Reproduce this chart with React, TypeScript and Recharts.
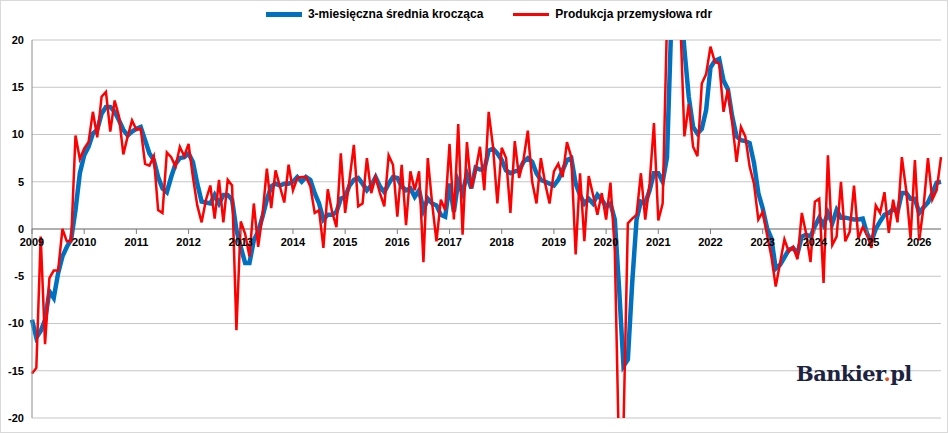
import React from "react";
import { LineChart, Line, XAxis, YAxis, CartesianGrid, ReferenceLine } from "recharts";

const years = [2009, 2010, 2011, 2012, 2013, 2014, 2015, 2016, 2017, 2018, 2019, 2020, 2021, 2022, 2023, 2024, 2025, 2026];
const monthsLastYear = 6;

// Produkcja przemysłowa r/r (%)
const prodRdr = [
  -15.3, -14.7, -0.8, -12.2, -5.2, -4.4, -4.4, 0, -1.3, -1.3, 9.9, 7.4,
  8.5, 9.2, 12.4, 9.7, 14, 14.5, 10.3, 13.6, 11.9, 7.9, 9.8, 11.5,
  10.5, 10.6, 6.9, 6.7, 7.7, 2, 1.7, 8.1, 7.6, 6.6, 8.7, 7.7,
  9, 5.5, 2.5, 0.7, 3.1, 4.6, 1.1, 5.2, 0.7, 5.2, 4.6, -10.7,
  0.8, -0.5, -2.9, 2.7, -1.9, 1.5, 6.4, 2.2, 6.2, 4.5, 2.8, 6.8,
  4.1, 5.4, 5.5, 5.5, 4.5, 1.7, 2, -2, 4.2, 1.8, 0.2, 8,
  1.7, 5.2, 8.9, 2.4, 2.7, 7.5, 3.8, 5.5, 3.8, 2.4, 7.8, 6.8,
  1.3, 6.8, 0.4, 6.1, 4.1, 6.1, -3.5, 7.5, 2.7, -1.3, 3.1, 2,
  9, 1, 11.1, -0.6, 9.2, 4.3, 6.2, 8.7, 4.1, 12.4, 8.7, 2.7,
  8.6, 7.5, 1.7, 9.3, 5.4, 7.3, 10.4, 5, 2.7, 7.5, 4.8, 2.7,
  6.1, 6.9, 5.5, 9.2, 7.6, -2.7, 5.9, -1.3, 5.6, 3.6, 1.5, 3.8,
  1, 4.9, -2.3, -24.6, -21, 0.6, 1.1, 1.5, 5.9, 1, 4.8, 11.2,
  0.9, 2.7, 22, 44.5, 29.8, 23, 9.8, 13.2, 8.7, 7.7, 15.4, 16.4,
  19.3, 17.7, 17.5, 12.4, 14.8, 11.2, 7.1, 10.8, 9.8, 6.6, 4.8, 1,
  1.8, -0.6, -2.9, -6.1, -3.6, -1.1, -2.4, -1.9, -3.2, 1.7, -0.5, -3.5,
  2.9, 3.2, -5.7, 7.8, -1.7, -0.8, 5, -1.3, -0.3, 4.6, -1, 0.2,
  -0.6, -2, 2.5, 1.7, 3.9, -0.4, 3.1, 0.7, 7.6, 4.1, -1, 7.3,
  -1.2, 2.4, 7.5, 3.1, 4.1, 7.6,
];

// 3-miesięczna średnia krocząca (%)
const avg3m = [
  -9.6, -11.5, -10.8, -9.6, -6.6, -7.3, -4.7, -2.9, -1.9, -1.1, 2, 5.9,
  7.8, 8.7, 10.1, 10.5, 12.2, 12.9, 12.9, 12.4, 11.5, 10.5, 9.9, 10.3,
  10.6, 10.8, 9.4, 8, 7.3, 5.5, 4.3, 3.9, 5.5, 6.9, 7.5, 7.6,
  8, 7.1, 4.8, 2.9, 2.8, 2.7, 3.6, 2.7, 3.6, 3.6, 3.1, -0.1,
  -1.9, -3.6, -3.6, -1.2, -0.3, 1.3, 3.1, 4.5, 4.8, 4.6, 4.8, 4.8,
  5, 5.5, 5, 5.5, 5.2, 3.8, 2.7, 1, 1.5, 1.5, 1.8, 3.2,
  3.4, 4.6, 5.2, 5.4, 4.8, 4.1, 4.6, 5.5, 4.5, 3.9, 4.8, 5.5,
  5.4, 4.5, 4.1, 4.3, 3.4, 4.1, 2, 3.2, 2.7, 2.5, 1.5, 1.3,
  4.8, 1.8, 5, 3.8, 5.8, 4.3, 6.5, 6.3, 6.3, 8.3, 8.5, 8,
  7.3, 6.2, 5.9, 6.1, 6.2, 7.1, 7.5, 7.1, 5.9, 5.2, 5, 4.8,
  4.6, 5.2, 6.2, 7.3, 7.5, 4.8, 3.6, 2.7, 3.2, 2.7, 3.6, 3.1,
  2.4, 2.7, 1, -6.4, -14.5, -13.8, -5.7, 1, 2.9, 2.7, 4.1, 5.9,
  5.9, 5, 7.6, 22, 31, 25, 19, 14, 10.8, 10.1, 10.6, 12.6,
  17.1, 17.8, 18, 15.7, 14.8, 11.9, 9.8, 9.4, 9.3, 9.1, 7, 3.8,
  2.2, 0.1, -1, -4.2, -3.8, -3, -2.2, -2, -2.6, -0.8, -0.6, -0.8,
  0.3, 1.2, 0.4, 1.7, 0.6, 2, 1.2, 1.2, 1.1, 1, 1, 1.1,
  -0.5, -1.3, 0, 0.8, 1.5, 1.7, 2.1, 1.8, 3.8, 3.8, 3.2, 3.2,
  1.7, 2.3, 2.8, 3.8, 4.9, 5,
];

const yTicks = [-20, -15, -10, -5, 0, 5, 10, 15, 20];

const months: string[] = [];
years.forEach((y, i) => {
  const n = i === years.length - 1 ? monthsLastYear : 12;
  for (let m = 1; m <= n; m++) months.push(`${y}-${m}`);
});
const data = months.map((m, i) => ({ m, prod: prodRdr[i], avg: avg3m[i] }));
const yearTicks = years.map((y) => `${y}-1`);

const W = 946;
const H = 431;
const TOP = 39;
const PLOT_BOTTOM = 417;
const X_AXIS_H = 12;
const ZERO_Y = (TOP + PLOT_BOTTOM) / 2;
const font = "'Liberation Sans', Arial, sans-serif";

const YearTick = (props: any) => {
  const { x, payload } = props;
  return (
    <g>
      <line x1={x} x2={x} y1={ZERO_Y} y2={ZERO_Y + 5} stroke="#7f7f7f" />
      <text x={x} y={ZERO_Y + 17} textAnchor="middle" fontSize={11} fontWeight="bold" fill="#000" fontFamily={font}>
        {String(payload.value).split("-")[0]}
      </text>
    </g>
  );
};

const LegendBox = () => (
  <div style={{ position: "absolute", top: 6, left: 0, width: W, display: "flex", justifyContent: "center", gap: 30, fontFamily: font, fontSize: 12, fontWeight: "bold", paddingLeft: 30, boxSizing: "border-box" }}>
    <span style={{ display: "flex", alignItems: "center" }}>
      <span style={{ width: 36, height: 5, background: "#0070c0", marginRight: 6 }} />
      3-miesięczna średnia krocząca
    </span>
    <span style={{ display: "flex", alignItems: "center" }}>
      <span style={{ width: 36, height: 3, background: "#ff0000", marginRight: 6 }} />
      Produkcja przemysłowa rdr
    </span>
  </div>
);

export default function App() {
  return (
    <div style={{ position: "absolute", left: 0, top: 0, width: W, height: H, border: "1px solid #d9d9d9", background: "#fff" }}>
      <LineChart width={W} height={H} data={data} margin={{ top: TOP, right: 6, bottom: H - PLOT_BOTTOM - X_AXIS_H, left: 3 }}>
        <CartesianGrid vertical={false} stroke="#c6c6c6" strokeWidth={1.2} />
        <XAxis dataKey="m" ticks={yearTicks} interval={0} height={X_AXIS_H} axisLine={false} tickLine={false} tick={<YearTick />} />
        <YAxis
          domain={[-20, 20]}
          ticks={yTicks}
          allowDataOverflow
          width={28}
          axisLine={{ stroke: "#8c8c8c" }}
          tickLine={false}
          tick={{ fontSize: 11, fontWeight: "bold", fill: "#000", fontFamily: font }}
        />
        <ReferenceLine y={0} stroke="#7f7f7f" />
        <Line type="linear" dataKey="avg" stroke="#0070c0" strokeWidth={4.5} dot={false} isAnimationActive={false} />
        <Line type="linear" dataKey="prod" stroke="#ff0000" strokeWidth={2.5} dot={false} isAnimationActive={false} />
      </LineChart>
      <LegendBox />
      <div style={{ position: "absolute", left: 795, top: 360, fontFamily: "'DejaVu Serif', serif", fontWeight: "bold", fontSize: 21, color: "#1b2340", letterSpacing: -0.6 }}>
        Bankier<span style={{ color: "#e8501e" }}>.</span>pl
      </div>
    </div>
  );
}
